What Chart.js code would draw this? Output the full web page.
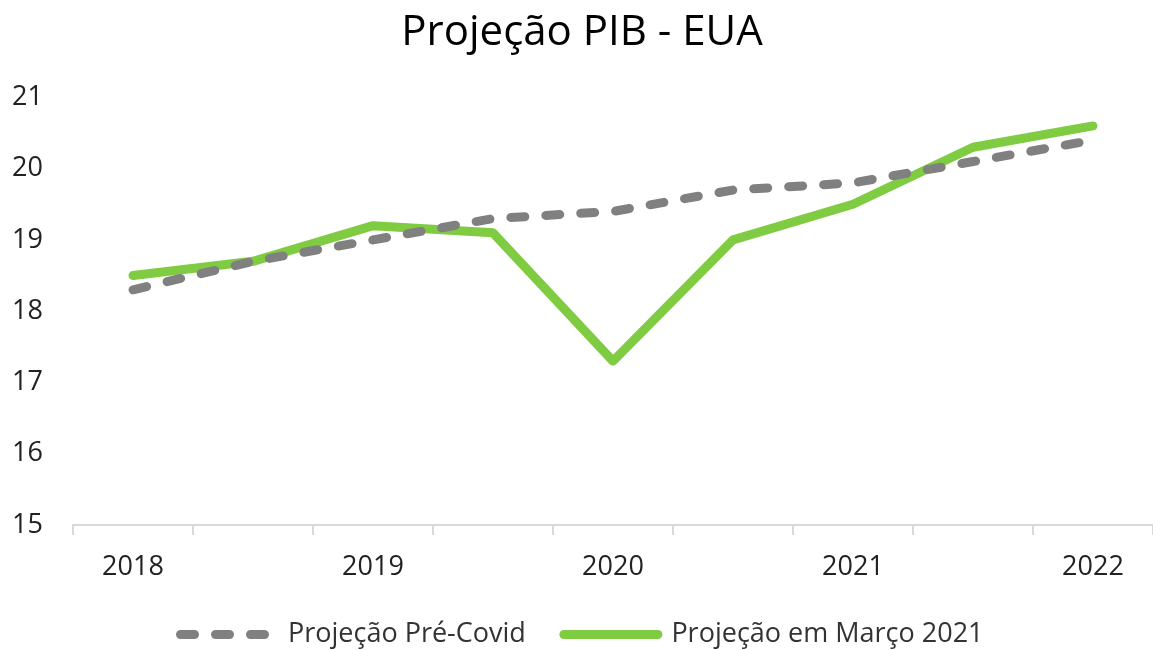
<!DOCTYPE html>
<html>
<head>
<meta charset="utf-8">
<title>Projeção PIB - EUA</title>
<script src="https://cdn.jsdelivr.net/npm/chart.js@4/dist/chart.umd.min.js"></script>
<style>
  html, body { margin: 0; padding: 0; background: #ffffff; }
  #wrap { width: 1153px; height: 650px; }
</style>
</head>
<body>
<div id="wrap"><canvas id="pibChart" width="1153" height="650"></canvas></div>
<script>
'use strict';
// semestres: so os anos cheios ganham rotulo
var periodLabels = ['2018', '', '2019', '', '2020', '', '2021', '', '2022'];
var preCovid = [18.3, 18.7, 19.0, 19.3, 19.4, 19.7, 19.8, 20.1, 20.4];
var marco2021 = [18.5, 18.7, 19.2, 19.1, 17.3, 19.0, 19.5, 20.3, 20.6];
var yTicks = [15, 16, 17, 18, 19, 20, 21];

var fontName = 'Open Sans';
var axisGray = '#d9d9d9';

// legenda com o mesmo tracejado das linhas
function legendLabels(chart) {
  var items = Chart.defaults.plugins.legend.labels.generateLabels(chart);
  items.forEach(function(item) {
    var ds = chart.data.datasets[item.datasetIndex];
    item.lineDash = ds.borderDash || [];
    item.lineCap = 'round';
    item.lineWidth = ds.borderWidth;
    item.strokeStyle = ds.borderColor;
    item.fontColor = '#333333';
  });
  return items;
}

var ctx = document.getElementById('pibChart').getContext('2d');
var pibChart = new Chart(ctx, {
  type: 'line',
  data: {
    labels: periodLabels,
    datasets: [
      {
        label: 'Projeção Pré-Covid',
        data: preCovid,
        borderColor: '#808080',
        backgroundColor: '#808080',
        borderWidth: 9,
        borderDash: [14, 21],
        borderCapStyle: 'round',
        pointRadius: 0,
        pointStyle: 'line',
        tension: 0
      },
      {
        label: 'Projeção em Março 2021',
        data: marco2021,
        borderColor: '#7fcb42',
        backgroundColor: '#7fcb42',
        borderWidth: 9,
        borderCapStyle: 'round',
        borderJoinStyle: 'round',
        pointRadius: 0,
        pointStyle: 'line',
        tension: 0
      }
    ]
  },
  options: {
    responsive: false,
    animation: false,
    layout: { padding: { left: 11, right: 0, top: 8, bottom: -8 } },
    plugins: {
      tooltip: { enabled: false },
      title: {
        display: true,
        text: 'Projeção PIB - EUA',
        color: '#000000',
        font: { family: fontName, size: 42, weight: 'normal' },
        padding: { top: 0, bottom: 39 }
      },
      legend: {
        position: 'bottom',
        labels: {
          usePointStyle: true,
          pointStyleWidth: 94,
          generateLabels: legendLabels,
          color: '#333333',
          font: { family: fontName, size: 27 },
          padding: 38
        }
      }
    },
    scales: {
      x: {
        offset: true,
        afterFit: function(scale) {
          scale.height = 58;
        },
        grid: {
          display: true,
          offset: true,
          drawOnChartArea: false,
          drawTicks: true,
          tickLength: 10,
          color: axisGray,
          lineWidth: 2
        },
        border: { display: true, color: axisGray, width: 2 },
        ticks: {
          autoSkip: false,
          maxRotation: 0,
          color: '#222222',
          padding: 19,
          font: { family: fontName, size: 27, lineHeight: 1 }
        }
      },
      y: {
        min: 15,
        max: 21,
        afterBuildTicks: function(axis) {
          axis.ticks = yTicks.map(function(v) { return { value: v }; });
        },
        afterFit: function(scale) {
          scale.width = 62;
        },
        grid: { display: false, drawTicks: false },
        border: { display: false },
        ticks: {
          color: '#222222',
          padding: 30,
          font: { family: fontName, size: 27 }
        }
      }
    }
  }
});
</script>
</body>
</html>
